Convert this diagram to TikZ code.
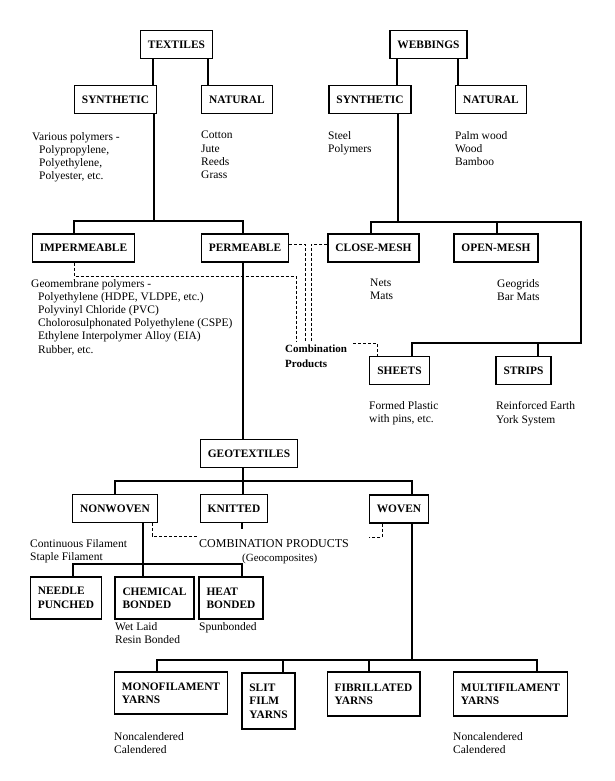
\documentclass[tikz,border=0pt]{standalone}
\usepackage{fontspec}
\setmainfont{Liberation Serif}

\begin{document}
\begin{tikzpicture}[
    x=1pt, y=-1pt,
    category/.style={rectangle, draw, line width=1.3pt, minimum height=28pt, inner xsep=7.5pt, inner ysep=3pt, align=left, font=\fontsize{11.4}{13.4}\selectfont\bfseries},
    note/.style={anchor=north west, inner sep=0pt, align=left, font=\fontsize{11.5}{13.2}\selectfont},
    link/.style={line width=1.1pt},
    combo/.style={line width=0.9pt, dash pattern=on 3pt off 2pt}
]
\useasboundingbox (0,0) rectangle (615,781);

% Main categories
\node[category] (textiles) at (176.5,44.5) {TEXTILES};
\node[category] (webbings) at (428.5,44.5) {WEBBINGS};
\node[category] (tsyn) at (115.5,99.5) {SYNTHETIC};
\node[category] (tnat) at (237,99.5) {NATURAL};
\node[category] (wsyn) at (370,99.5) {SYNTHETIC};
\node[category] (wnat) at (491,99.5) {NATURAL};
\node[category] (imperm) at (83.5,248) {IMPERMEABLE};
\node[category] (perm) at (245,248) {PERMEABLE};
\node[category] (close) at (373.5,248) {CLOSE-MESH};
\node[category] (open) at (496,248) {OPEN-MESH};
\node[category] (sheets) at (399.5,370.5) {SHEETS};
\node[category] (strips) at (523.5,370.5) {STRIPS};

% Geotextiles
\node[category] (geotex) at (249,453.5) {GEOTEXTILES};
\node[category] (nonwoven) at (115,508.5) {NONWOVEN};
\node[category] (knitted) at (234,508.5) {KNITTED};
\node[category] (woven) at (399,509) {WOVEN};
\node[category, minimum height=42pt] (needle) at (66,598) {NEEDLE\\PUNCHED};
\node[category, minimum height=42pt] (chem) at (154.5,598) {CHEMICAL\\BONDED};
\node[category, minimum height=42pt] (heat) at (231,598) {HEAT\\BONDED};
\node[category, minimum height=42pt] (mono) at (171,693) {MONOFILAMENT\\YARNS};
\node[category, minimum height=56pt] (slit) at (268.5,701) {SLIT\\FILM\\YARNS};
\node[category, minimum height=44pt] (fib) at (373.5,694) {FIBRILLATED\\YARNS};
\node[category, minimum height=44pt] (multi) at (510.5,694) {MULTIFILAMENT\\YARNS};

% Notes
\node[note] (tsynnote) at (32,132) {Various polymers -\\\hspace*{7pt}Polypropylene,\\\hspace*{7pt}Polyethylene,\\\hspace*{7pt}Polyester, etc.};
\node[note] (tnatnote) at (201,131) {Cotton\\Jute\\Reeds\\Grass};
\node[note] (wsynnote) at (328,131) {Steel\\Polymers};
\node[note] (wnatnote) at (455,131) {Palm wood\\Wood\\Bamboo};
\node[note] (impermnote) at (31,279) {Geomembrane polymers -\\\hspace*{7pt}Polyethylene (HDPE, VLDPE, etc.)\\\hspace*{7pt}Polyvinyl Chloride (PVC)\\\hspace*{7pt}Cholorosulphonated Polyethylene (CSPE)\\\hspace*{7pt}Ethylene Interpolymer Alloy (EIA)\\\hspace*{7pt}Rubber, etc.};
\node[note] (closenote) at (370,279) {Nets\\Mats};
\node[note] (opennote) at (497,279) {Geogrids\\Bar Mats};
\node[note] (sheetsnote) at (369,401.5) {Formed Plastic\\with pins, etc.};
\node[note] (stripsnote) at (496,401.5) {Reinforced Earth\\York System};
\node[note] (nonwovennote) at (30,539) {Continuous Filament\\Staple Filament};
\node[note] (chemnote) at (115,622.5) {Wet Laid\\Resin Bonded};
\node[note] (heatnote) at (199,622.5) {Spunbonded};
\node[note] (mononote) at (114,732) {Noncalendered\\Calendered};
\node[note] (multinote) at (453,732) {Noncalendered\\Calendered};
\node[note, font=\fontsize{11}{14.4}\selectfont\bfseries] (comb) at (285,345) {Combination\\Products};
\node[anchor=west, inner sep=0pt, font=\fontsize{12}{14}\selectfont] (geocomb) at (199,544) {COMBINATION PRODUCTS};
\node[anchor=base west, inner sep=0pt, font=\fontsize{11}{13}\selectfont] (geocomp) at (242,561) {(Geocomposites)};

% Bus points
\coordinate (tbus) at (154,221);
\coordinate (wbus) at (398,222);
\coordinate (wturn) at (581,343);
\coordinate (gbus) at (243,481);
\coordinate (nbus) at (143,564);
\coordinate (ybus) at (412,660);
\coordinate (ibend) at (296,276);
\coordinate (permdrop) at (305,0);
\coordinate (closedrop) at (311,0);
\coordinate (wovenend) at (369,537);
\coordinate (combtop) at ([yshift=3pt]comb.north);

% Tree lines
\draw[link] ([xshift=-23.5pt]textiles.south) -- ([xshift=-23.5pt]textiles.south |- tsyn.north);
\draw[link] ([xshift=31.5pt]textiles.south) -- ([xshift=31.5pt]textiles.south |- tnat.north);
\draw[link] ([xshift=-31.5pt]webbings.south) -- ([xshift=-31.5pt]webbings.south |- wsyn.north);
\draw[link] ([xshift=29.5pt]webbings.south) -- ([xshift=29.5pt]webbings.south |- wnat.north);
\draw[link] ([xshift=38.5pt]tsyn.south) -- (tbus);
\draw[link] ([xshift=-9.5pt]imperm.north) |- (tbus) -| ([xshift=-2pt]perm.north);
\draw[link] ([xshift=28pt]wsyn.south) -- (wbus);
\draw[link] ([xshift=-2.5pt]close.north) |- (wbus) -| (wturn) -| ([xshift=12.5pt]sheets.north);
\draw[link] ([xshift=1pt]open.north) -- ([xshift=1pt]open.north |- wbus);
\draw[link] ([xshift=14.5pt]strips.north) -- ([xshift=14.5pt]strips.north |- wturn);
\draw[link] ([xshift=-2pt]perm.south) -- ([xshift=-2pt]perm.south |- geotex.north);
\draw[link] ([xshift=-6pt]geotex.south) -- ([xshift=9pt]knitted.north);
\draw[link] (nonwoven.north) |- (gbus) -| ([xshift=13pt]woven.north);
\draw[link] ([xshift=8pt]knitted.south) -- ++(0,6);
\draw[link] ([xshift=28pt]nonwoven.south) -- ([xshift=-11.5pt]chem.north);
\draw[link] ([xshift=7pt]needle.north) |- (nbus) -| ([xshift=11pt]heat.north);
\draw[link] ([xshift=13pt]woven.south) -- (ybus);
\draw[link] ([xshift=-14pt]mono.north) |- (ybus) -| ([xshift=26.5pt]multi.north);
\draw[link] ([xshift=14.5pt]slit.north) -- ([xshift=14.5pt]slit.north |- ybus);
\draw[link] ([xshift=-4.5pt]fib.north) -- ([xshift=-4.5pt]fib.north |- ybus);

% Combination links
\draw[combo] ([xshift=-9.5pt]imperm.south) |- (ibend) -- (ibend |- combtop);
\draw[combo] ([yshift=4pt]perm.east) -| (permdrop |- combtop);
\draw[combo] ([yshift=4pt]close.west) -| (closedrop |- combtop);
\draw[combo] ([xshift=6pt,yshift=2pt]comb.north east) -| ([xshift=-22.5pt]sheets.north);
\draw[combo] ([xshift=37pt]nonwoven.south) |- ([yshift=8pt]geocomb.west);
\draw[combo] ([xshift=-17pt]woven.south) |- (wovenend);

\end{tikzpicture}
\end{document}
